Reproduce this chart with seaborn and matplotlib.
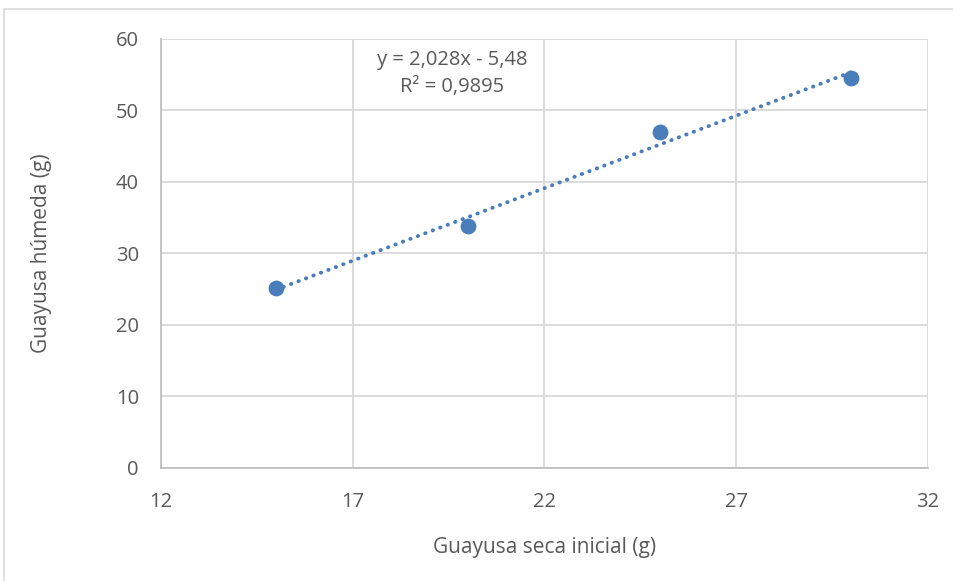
import numpy as np
import pandas as pd
import matplotlib
matplotlib.use("Agg")
import matplotlib.pyplot as plt
import seaborn as sns
from matplotlib.patches import Rectangle

# datos
seca_inicial = [15, 20, 25, 30]
humeda = [25.2, 33.8, 47.0, 54.6]
x_ticks = [12, 17, 22, 27, 32]
y_ticks = [0, 10, 20, 30, 40, 50, 60]
ecuacion = "y = 2,028x - 5,48"
r2_texto = "R² = 0,9895"

df = pd.DataFrame({"seca": seca_inicial, "humeda": humeda})

sns.set_style("white")
plt.rcParams["font.family"] = ["Open Sans", "DejaVu Sans"]

GRIS_TXT = "#595959"
GRIS_GRID = "#d9d9d9"
AZUL = "#4a7ebb"

fig = plt.figure(figsize=(9.54, 5.81), dpi=100)
ax = fig.add_axes([0.1688, 0.1945, 0.9727 - 0.1688, 0.9329 - 0.1945])

# borde exterior del gráfico
fig.patches.append(Rectangle((4 / 954, -0.05), 1.2, 1 - 9 / 581 + 0.05,
                             transform=fig.transFigure, fill=False,
                             edgecolor="#d9d9d9", linewidth=1.2))

# línea de tendencia (regresión lineal)
m, b = np.polyfit(df["seca"], df["humeda"], 1)
xt = np.array([min(seca_inicial), max(seca_inicial)])
ax.plot(xt, m * xt + b, color=AZUL, linewidth=2.8,
        linestyle=(0, (0.1, 1.95)), dash_capstyle="round", zorder=3)

sns.scatterplot(data=df, x="seca", y="humeda", ax=ax, s=130, color=AZUL,
                edgecolor=AZUL, linewidth=0, zorder=4)

ax.set_xlim(12, 32)
ax.set_ylim(0, 60)
ax.set_xticks(x_ticks)
ax.set_yticks(y_ticks)
ax.grid(True, color=GRIS_GRID, linewidth=1.3)
ax.set_axisbelow(True)
for lado in ["top", "right"]:
    ax.spines[lado].set_visible(False)
for lado in ["left", "bottom"]:
    ax.spines[lado].set_color("#bfbfbf")
    ax.spines[lado].set_linewidth(1.3)
ax.tick_params(length=0, labelsize=14.5, labelcolor=GRIS_TXT)
ax.tick_params(axis="y", pad=16)
ax.tick_params(axis="x", pad=17)

ax.set_xlabel("Guayusa seca inicial (g)", fontsize=15, color=GRIS_TXT, labelpad=18)
ax.set_ylabel("Guayusa húmeda (g)", fontsize=15, color=GRIS_TXT, labelpad=46)

ax.text(19.6, 55.2, ecuacion + "\n" + r2_texto, ha="center", va="center",
        fontsize=14.5, color=GRIS_TXT, linespacing=1.45)

fig.savefig("out.png", dpi=100)
